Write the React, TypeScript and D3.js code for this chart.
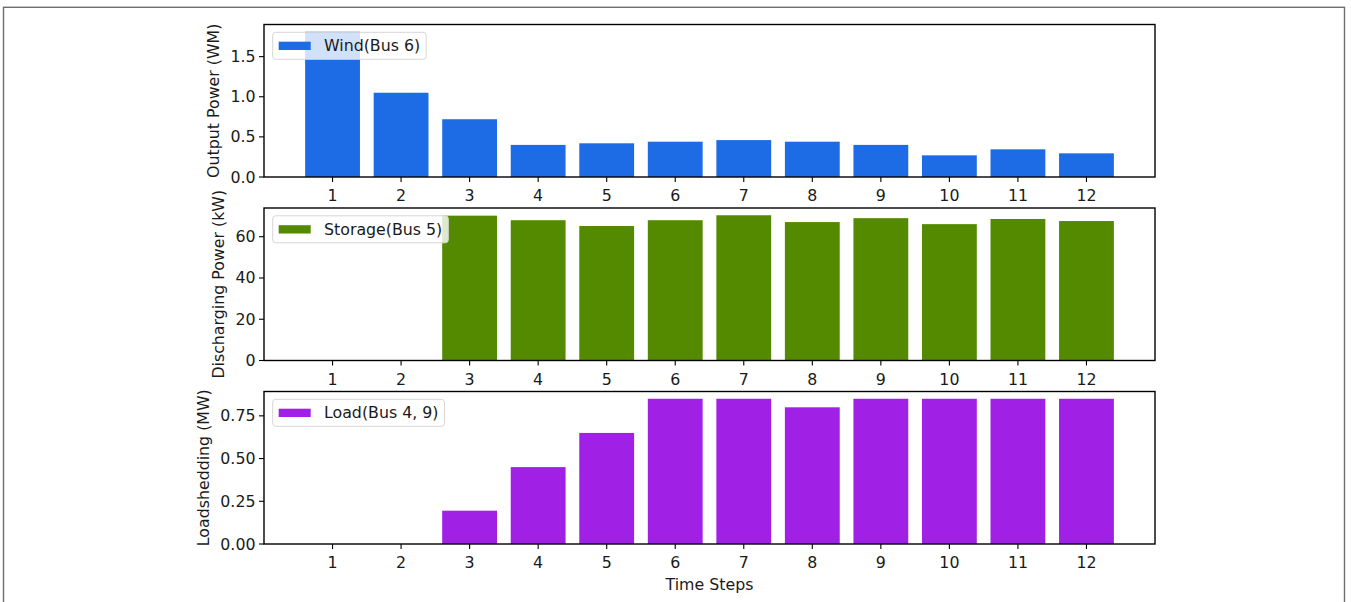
import { useMemo } from "react";
import * as d3 from "d3";

const WIDTH = 1351;
const HEIGHT = 602;
const MARGIN = { left: 264, right: 196, top: 24.5 };
const PANEL_H = 152.5;
const PANEL_GAP = 31;
const FONT = "DejaVu Sans, Verdana, sans-serif";
const FS = 15.8;

const timeSteps = [1, 2, 3, 4, 5, 6, 7, 8, 9, 10, 11, 12];
const windOutput = [1.81, 1.05, 0.72, 0.4, 0.42, 0.44, 0.46, 0.44, 0.4, 0.27, 0.345, 0.295];
const storageDischarge = [0, 0, 70.2, 68, 65.2, 68, 70.4, 67.1, 69, 66.1, 68.6, 67.6];
const loadShedding = [0, 0, 0.195, 0.45, 0.65, 0.85, 0.85, 0.8, 0.85, 0.85, 0.85, 0.85];

const windTicks = [0, 0.5, 1.0, 1.5];
const storageTicks = [0, 20, 40, 60];
const loadTicks = [0, 0.25, 0.5, 0.75];

const panels = [
  { values: windOutput, ticks: windTicks, fmt: ".1f", color: "#1e6be6", legend: "Wind(Bus 6)", ylabel: "Output Power (WM)" },
  { values: storageDischarge, ticks: storageTicks, fmt: "d", color: "#548a00", legend: "Storage(Bus 5)", ylabel: "Discharging Power (kW)" },
  { values: loadShedding, ticks: loadTicks, fmt: ".2f", color: "#a020e6", legend: "Load(Bus 4, 9)", ylabel: "Loadshedding (MW)" },
];

// measure text with canvas so legend boxes and label offsets follow the font
const ctx = typeof document !== "undefined" ? document.createElement("canvas").getContext("2d") : null;
const textWidth = (s: string) => {
  if (!ctx) return s.length * FS * 0.6;
  ctx.font = `${FS}px DejaVu Sans`;
  return ctx.measureText(s).width;
};

const Panel = ({ p, top, xScale, showXLabel }: any) => {
  const innerW = WIDTH - MARGIN.left - MARGIN.right;
  const yMax = d3.max(p.values as number[])! * 1.05;
  const yScale = d3.scaleLinear().domain([0, yMax]).range([PANEL_H, 0]);
  const fmt = d3.format(p.fmt);
  const bw = xScale(0.8) - xScale(0);

  const tickLabelRight = -5 - 3.5;
  const maxTickW = d3.max(p.ticks as number[], (t) => textWidth(fmt(t)))!;
  const ylabelX = tickLabelRight - maxTickW - 16.5;

  const legendTextW = textWidth(p.legend);
  const legendW = 51.3 + legendTextW + 6;

  return (
    <g transform={`translate(${MARGIN.left}, ${top})`}>
      {p.values.map((v: number, i: number) => (
        <rect
          key={i}
          x={xScale(timeSteps[i]) - bw / 2}
          y={yScale(v)}
          width={bw}
          height={PANEL_H - yScale(v)}
          fill={p.color}
        />
      ))}

      {/* legend */}
      <g transform="translate(8.7, 7.8)">
        <rect width={legendW} height={27} rx={3} fill="white" fillOpacity={0.8} stroke="#d6d6d6" strokeWidth={1} />
        <rect x={6} y={9.4} width={32} height={8.3} fill={p.color} />
        <text x={51.3} y={13.5} dominantBaseline="central" fontSize={FS} fontFamily={FONT} fill="#1a1a1a">
          {p.legend}
        </text>
      </g>

      {/* y axis */}
      {p.ticks.map((t: number) => (
        <g key={t} transform={`translate(0, ${yScale(t)})`}>
          <line x1={-5} x2={0} stroke="black" strokeWidth={1.1} />
          <text x={tickLabelRight} textAnchor="end" dominantBaseline="central" fontSize={FS} fontFamily={FONT} fill="#1a1a1a">
            {fmt(t)}
          </text>
        </g>
      ))}
      <text
        transform={`translate(${ylabelX}, ${PANEL_H / 2}) rotate(-90)`}
        textAnchor="middle"
        dominantBaseline="central"
        fontSize={FS}
        fontFamily={FONT}
        fill="#1a1a1a"
      >
        {p.ylabel}
      </text>

      {/* x axis */}
      {timeSteps.map((t) => (
        <g key={t} transform={`translate(${xScale(t)}, ${PANEL_H})`}>
          <line y1={0} y2={5} stroke="black" strokeWidth={1.1} />
          <text y={24.3} textAnchor="middle" fontSize={FS} fontFamily={FONT} fill="#1a1a1a">
            {t}
          </text>
        </g>
      ))}
      {showXLabel && (
        <text x={innerW / 2} y={PANEL_H + 45.8} textAnchor="middle" fontSize={FS} fontFamily={FONT} fill="#1a1a1a">
          Time Steps
        </text>
      )}

      <rect width={innerW} height={PANEL_H} fill="none" stroke="black" strokeWidth={1.4} />
    </g>
  );
};

export default function App() {
  const innerW = WIDTH - MARGIN.left - MARGIN.right;
  const xScale = useMemo(() => d3.scaleLinear().domain([0, 13]).range([0, innerW]), [innerW]);

  return (
    <div style={{ position: "fixed", left: 0, top: 0 }}>
      <svg width={WIDTH} height={HEIGHT} style={{ display: "block", background: "white" }}>
        <rect x={3.5} y={7.3} width={1341} height={HEIGHT + 10} fill="white" stroke="#6e6e6e" strokeWidth={1.4} />
        {panels.map((p, i) => (
          <Panel
            key={p.legend}
            p={p}
            top={MARGIN.top + i * (PANEL_H + PANEL_GAP)}
            xScale={xScale}
            showXLabel={i === panels.length - 1}
          />
        ))}
      </svg>
    </div>
  );
}
